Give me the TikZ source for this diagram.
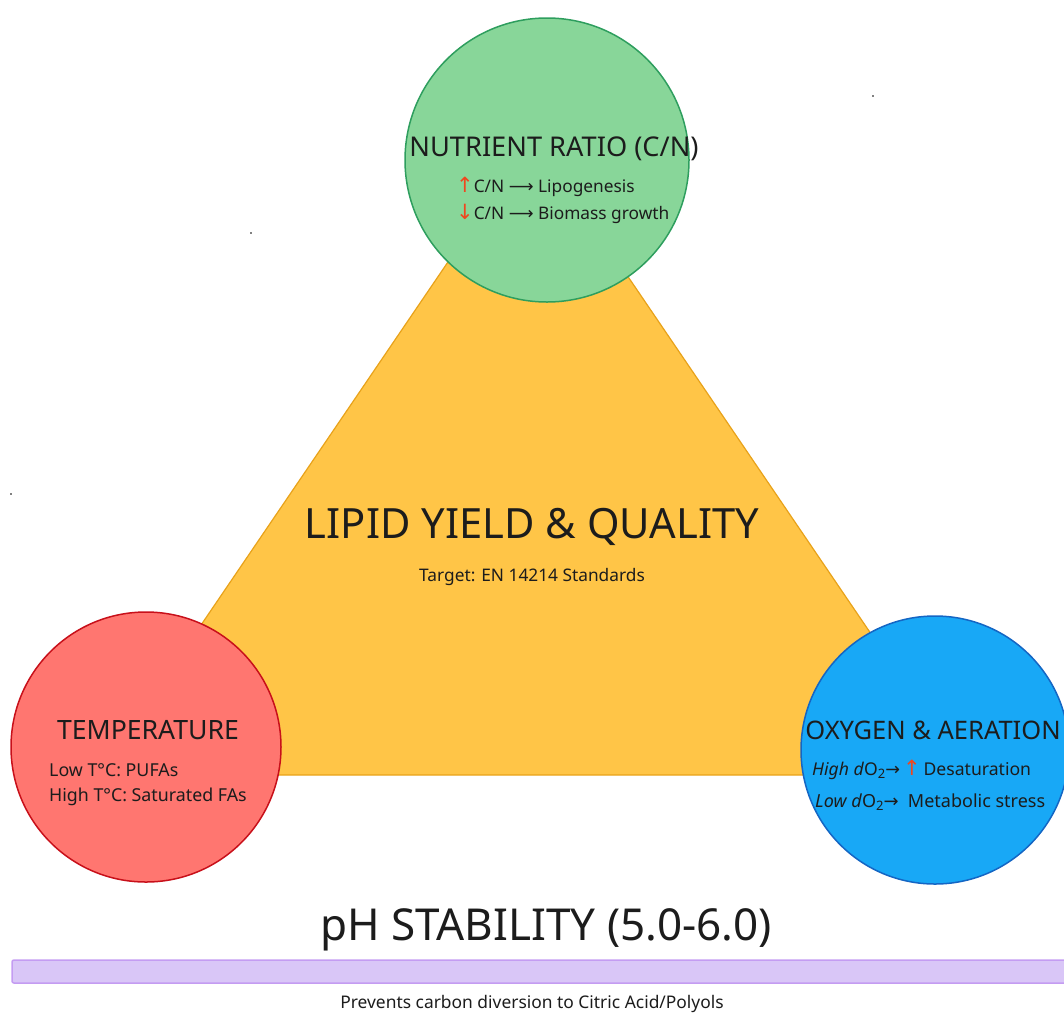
\documentclass[tikz,border=0pt]{standalone}
\usepackage{fontspec}
\setmainfont{Noto Sans}
\newfontfamily\symf{DejaVu Sans}
\definecolor{txt}{HTML}{1C1C1C}
\definecolor{trifill}{HTML}{FFC547}
\definecolor{triline}{HTML}{E8A21A}
\definecolor{grfill}{HTML}{88D699}
\definecolor{grline}{HTML}{2E9E5E}
\definecolor{rdfill}{HTML}{FF7670}
\definecolor{rdline}{HTML}{C8101A}
\definecolor{blfill}{HTML}{18A8F6}
\definecolor{blline}{HTML}{1466C4}
\definecolor{pufill}{HTML}{D9C6F7}
\definecolor{puline}{HTML}{C49CF2}
\definecolor{arr}{HTML}{F0461E}
\newcommand{\fs}[1]{\fontsize{#1}{#1}\selectfont}
\newcommand{\up}{{\symf\color{arr}\fs{21}↑}}
\newcommand{\dn}{{\symf\color{arr}\fs{21}↓}}
\newcommand{\ra}{{\symf ⟶}}
\newcommand{\rb}{{\symf →}}
\newcommand{\subtwo}{\raisebox{-0.35ex}{\fs{13}2}}
\tikzset{
  bubble/.style={circle, line width=1.5pt, inner sep=0pt},
  title/.style={text=txt, inner sep=0pt, anchor=center},
  line/.style={text=txt, inner sep=0pt, anchor=west, font=\fs{18}},
}
\begin{document}
\begin{tikzpicture}[x=1pt,y=-1pt]
\useasboundingbox (0,0) rectangle (1064,1015);
\clip (0,0) rectangle (1064,1015);
% triangle
\coordinate (apex) at (533,137);
\coordinate (bl) at (99,775);
\coordinate (br) at (967,775);
\filldraw[fill=trifill, draw=triline, line width=1.2pt, line join=round] (apex) -- (bl) -- (br) -- cycle;
% circles
\node[bubble, fill=grfill, draw=grline, minimum size=284pt] (nut) at (547,160) {};
\node[bubble, fill=rdfill, draw=rdline, minimum size=270pt] (temp) at (146,747) {};
\node[bubble, fill=blfill, draw=blline, minimum size=268pt] (oxy) at (935,750) {};
% central text
\node[title, font=\fs{41.7}] (lipid) at (532,527) {LIPID YIELD \& QUALITY};
\node[title, font=\fs{17.3}] (target) at (532,577) {Target: EN 14214 Standards};
% nutrient
\node[title, font=\fs{27.2}] (nuttitle) at (554,149) {NUTRIENT RATIO (C/N)};
\node[line, font=\fs{17.3}] (nut1) at (456,187) {\up C/N \ra\ Lipogenesis};
\node[line, font=\fs{17.3}] (nut2) at (456,214) {\dn C/N \ra\ Biomass growth};
% temperature
\node[title, font=\fs{26.6}] (temptitle) at (148,730) {TEMPERATURE};
\node[line, font=\fs{17.8}] (temp1) at (49,770) {Low T°C: PUFAs};
\node[line, font=\fs{17.8}] (temp2) at (49,797) {High T°C: Saturated FAs};
% oxygen
\node[title, font=\fs{25.5}] (oxytitle) at (933,730) {OXYGEN \& AERATION};
\node[line, font=\fs{17.6}] (oxy1) at (812,770) {\textit{High d}O\subtwo\rb\,\up\,Desaturation};
\node[line] (oxy2) at (815,802) {\textit{Low d}O\subtwo\rb\ \ Metabolic stress};
% pH
\node[title, font=\fs{44}] (ph) at (546,930) {pH STABILITY (5.0-6.0)};
\draw[fill=pufill, draw=puline, line width=1.5pt, rounded corners=2pt] (12,960) rectangle (1080,983);
\node[title, font=\fs{17.4}] (prev) at (532,1004) {Prevents carbon diversion to Citric Acid/Polyols};
% stray dots
\fill[black] (873,96) circle (0.8pt);
\fill[black] (251,233) circle (0.8pt);
\fill[black] (11,494) circle (0.8pt);
\end{tikzpicture}
\end{document}
